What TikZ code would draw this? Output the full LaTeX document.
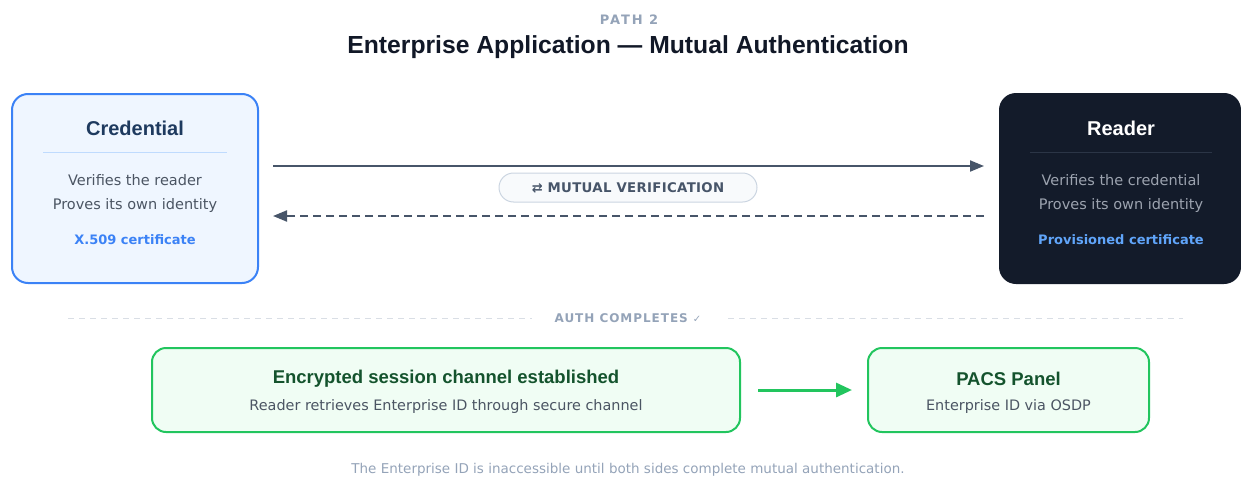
\documentclass[tikz,border=0pt]{standalone}
\usepackage{fontspec}
\setmainfont{DejaVu Sans}
\newfontfamily\symfont{DejaVu Sans}
\newfontfamily\headfont{Liberation Sans}
\usetikzlibrary{arrows.meta}
\definecolor{titlec}{HTML}{111827}
\definecolor{mutedc}{HTML}{94A3B8}
\definecolor{bodyc}{HTML}{4B5563}
\definecolor{credfill}{HTML}{EFF6FF}
\definecolor{credline}{HTML}{3B82F6}
\definecolor{credtitle}{HTML}{1E3A5F}
\definecolor{credsep}{HTML}{BFDBFE}
\definecolor{readfill}{HTML}{131B2A}
\definecolor{readsep}{HTML}{2B3546}
\definecolor{readtext}{HTML}{9CA3AF}
\definecolor{readblue}{HTML}{60A5FA}
\definecolor{arrowc}{HTML}{475569}
\definecolor{pillfill}{HTML}{F8FAFC}
\definecolor{pillline}{HTML}{CBD5E1}
\definecolor{divc}{HTML}{D9DEE5}
\definecolor{greenfill}{HTML}{F0FDF4}
\definecolor{greenline}{HTML}{22C55E}
\definecolor{greentitle}{HTML}{14532D}
\tikzset{
  card/.style={draw, line width=2pt, rounded corners=16pt, inner sep=0pt},
  gbox/.style={draw=greenline, fill=greenfill, line width=2pt, rounded corners=14pt, inner sep=0pt},
  lbl/.style={inner sep=0pt, anchor=center},
  flow/.style={draw=arrowc, line width=2pt},
  headtxt/.style={font=\headfont\fontsize{20}{23}\selectfont\bfseries},
  greenhead/.style={text=greentitle, font=\headfont\fontsize{18.5}{22}\selectfont\bfseries},
  bodytxt/.style={font=\fontsize{14.5}{17}\selectfont},
  subtxt/.style={text=bodyc, font=\fontsize{14.4}{17}\selectfont},
  certtxt/.style={font=\fontsize{13}{15}\selectfont\bfseries},
}
\begin{document}
\begin{tikzpicture}[x=1pt,y=-1pt]
\useasboundingbox (0,0) rectangle (1241,479);
% header
\node[lbl, text=mutedc, font=\fontsize{13}{15}\selectfont\bfseries\addfontfeatures{LetterSpace=15}] (path) at (629,20) {PATH 2};
\node[lbl, text=titlec, font=\headfont\fontsize{24.7}{29}\selectfont\bfseries] (title) at (628,47) {Enterprise Application — Mutual Authentication};
% credential
\node[card, draw=credline, fill=credfill, minimum width=246pt, minimum height=189pt] (cred) at (135,188.5) {};
\node[lbl, headtxt, text=credtitle] (credt) at (135,128) {Credential};
\draw[credsep, line width=1pt] (43,152) coordinate (cs1) -- (227,152) coordinate (cs2);
\node[lbl, bodytxt, text=bodyc] (cred1) at (135,180) {Verifies the reader};
\node[lbl, bodytxt, text=bodyc] (cred2) at (135,205) {Proves its own identity};
\node[lbl, certtxt, text=credline] (cred3) at (135,240) {X.509 certificate};
% reader
\node[card, draw=readfill, fill=readfill, minimum width=240pt, minimum height=189pt] (reader) at (1120,188.5) {};
\node[lbl, headtxt, text=white] (readt) at (1121,128) {Reader};
\draw[readsep, line width=1pt] (1030,152) coordinate (rs1) -- (1212,152) coordinate (rs2);
\node[lbl, bodytxt, text=readtext] (read1) at (1121,180) {Verifies the credential};
\node[lbl, bodytxt, text=readtext] (read2) at (1121,205) {Proves its own identity};
\node[lbl, certtxt, text=readblue] (read3) at (1121,240) {Provisioned certificate};
% arrows
\draw[flow, -{Triangle[length=14pt,width=11pt]}] ([xshift=14pt,yshift=22.5pt]cred.east) -- ([xshift=-15pt,yshift=22.5pt]reader.west);
\draw[flow, dash pattern=on 8pt off 5pt, -{Triangle[length=14pt,width=11pt]}] ([xshift=-15pt,yshift=-27.5pt]reader.west) -- ([xshift=14pt,yshift=-27.5pt]cred.east);
\node[draw=pillline, fill=pillfill, line width=1pt, rounded corners=14.5pt, minimum width=258pt, minimum height=29pt, inner sep=0pt, text=arrowc, font=\fontsize{13.3}{15}\selectfont\bfseries\addfontfeatures{LetterSpace=2.5}] (pill) at (628,187.5) {{\symfont\fontsize{13}{14}\selectfont ⇄}\ MUTUAL VERIFICATION};
% divider
\node[lbl, text=mutedc, font=\fontsize{12}{14}\selectfont\bfseries\addfontfeatures{LetterSpace=8}] (auth) at (628,318) {AUTH COMPLETES {\symfont\fontsize{10}{12}\selectfont ✓}};
\coordinate (dl) at (68,318);
\coordinate (dr) at (1183,318);
\draw[divc, line width=1pt, dash pattern=on 6pt off 5pt] (dl) -- ([xshift=-96pt]auth.center);
\draw[divc, line width=1pt, dash pattern=on 6pt off 5pt] ([xshift=100pt]auth.center) -- (dr);
% green boxes
\node[gbox, minimum width=588pt, minimum height=84pt] (sess) at (446,390) {};
\node[lbl, greenhead] (sesst) at (446,379) {Encrypted session channel established};
\node[lbl, subtxt] (sesss) at (446,407) {Reader retrieves Enterprise ID through secure channel};
\node[gbox, minimum width=281pt, minimum height=84pt] (pacs) at (1008.5,390) {};
\node[lbl, greenhead] (pacst) at (1008.5,379) {PACS Panel};
\node[lbl, subtxt] (pacss) at (1008.5,407) {Enterprise ID via OSDP};
\draw[greenline, line width=3pt, -{Triangle[length=16pt,width=14pt]}] ([xshift=17pt]sess.east) -- ([xshift=-15pt]pacs.west);
% footer
\node[lbl, text=mutedc, font=\fontsize{13.5}{16}\selectfont] (foot) at (628,470) {The Enterprise ID is inaccessible until both sides complete mutual authentication.};
\end{tikzpicture}
\end{document}
